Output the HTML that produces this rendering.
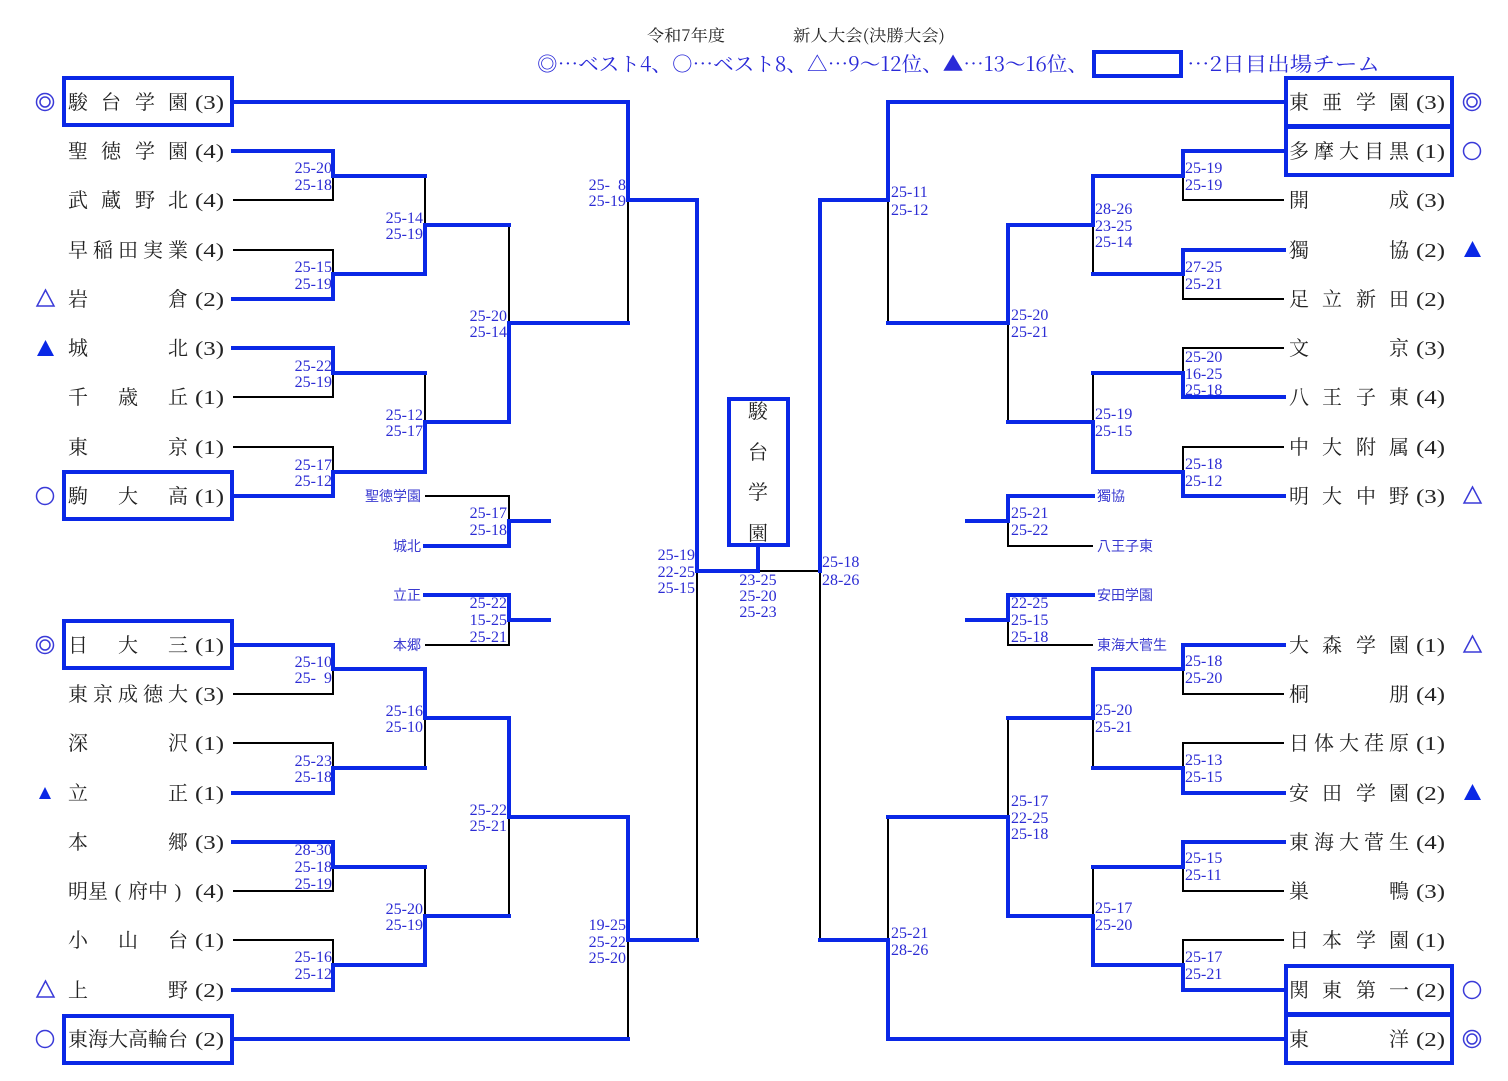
<!DOCTYPE html>
<html>
<head>
<meta charset="utf-8">
<style>
html,body{margin:0;padding:0;background:#fff;}
svg{display:block;}
.nm{font-family:"Liberation Serif","Noto Serif CJK SC",serif;font-size:20px;fill:#222;}
.pr{font-family:"Liberation Serif",serif;font-size:20px;fill:#222;}
.sc{font-family:"Liberation Serif",serif;font-size:16px;fill:#2c2cd4;}
.lb{font-family:"Liberation Sans","Noto Sans CJK JP",sans-serif;font-size:14px;fill:#3a3ad0;}
.bl{stroke:#0a28e6;stroke-width:4;fill:none;stroke-linecap:square;}
.bk{stroke:#000;stroke-width:2;fill:none;}
.hd{font-family:"Noto Serif CJK SC","Liberation Serif",serif;}
</style>
</head>
<body>
<svg width="1508" height="1081" viewBox="0 0 1508 1081" xmlns="http://www.w3.org/2000/svg">
<!-- Header -->
<text class="hd" x="647" y="41" font-size="16" fill="#222" textLength="78" lengthAdjust="spacingAndGlyphs">令和7年度</text>
<text class="hd" x="793" y="41" font-size="16" fill="#222" textLength="152" lengthAdjust="spacingAndGlyphs">新人大会(決勝大会)</text>
<text class="hd" x="537" y="71" font-size="20" fill="#2a2ad8" textLength="551" lengthAdjust="spacingAndGlyphs">◎…ベスト4、○…ベスト8、△…9〜12位、▲…13〜16位、</text>
<rect x="1094" y="52" width="87" height="24" fill="none" stroke="#0a28e6" stroke-width="4"/>
<text class="hd" x="1187" y="71" font-size="20" fill="#2a2ad8" textLength="193" lengthAdjust="spacingAndGlyphs">…2日目出場チーム</text>

<!-- Black lines -->
<g class="bk">
<path d="M233,200 H333 V176"/>
<path d="M233,250 H333 V274"/>
<path d="M425,176 V225"/>
<path d="M233,397 H333 V373"/>
<path d="M233,447 H333 V472"/>
<path d="M425,373 V422"/>
<path d="M509,225 V323"/>
<path d="M628,200 V323"/>
<path d="M233,694 H333 V669"/>
<path d="M233,743 H333 V768"/>
<path d="M425,718 V768"/>
<path d="M233,891 H333 V867"/>
<path d="M233,940 H333 V965"/>
<path d="M425,867 V916"/>
<path d="M509,817 V916"/>
<path d="M628,940 V1039"/>
<path d="M697,571 V940"/>
<path d="M758,571 H820 V940"/>
<path d="M888,200 V323"/>
<path d="M1093,225 V274"/>
<path d="M1183,176 V200 H1284"/>
<path d="M1183,274 V299 H1284"/>
<path d="M1008,323 V422"/>
<path d="M1093,373 V422"/>
<path d="M1183,373 V348 H1284"/>
<path d="M1183,472 V447 H1284"/>
<path d="M888,817 V940"/>
<path d="M1008,718 V817"/>
<path d="M1093,718 V768"/>
<path d="M1183,669 V694 H1284"/>
<path d="M1183,768 V743 H1284"/>
<path d="M1093,867 V916"/>
<path d="M1183,867 V891 H1284"/>
<path d="M1183,965 V940 H1284"/>
<path d="M425,496 H509 V521"/>
<path d="M425,645 H509 V620"/>
<path d="M1093,546 H1008 V521"/>
<path d="M1093,645 H1008 V620"/>
</g>

<!-- Blue lines -->
<g class="bl">
<path d="M233,102 H628 V200 H697 V571 H758 V546"/>
<path d="M233,151 H333 V176 H425"/>
<path d="M233,299 H333 V274 H425 V225 H509"/>
<path d="M233,348 H333 V373 H425"/>
<path d="M233,496 H333 V472 H425 V422 H509 V323 H628"/>
<path d="M233,645 H333 V669 H425 V718 H509 V817 H628 V940 H697"/>
<path d="M233,793 H333 V768 H425"/>
<path d="M233,842 H333 V867 H425"/>
<path d="M233,990 H333 V965 H425 V916 H509"/>
<path d="M233,1039 H628"/>
<path d="M820,571 V200 H888 V102 H1284"/>
<path d="M888,323 H1008 V225 H1093 V176 H1183 V151 H1284"/>
<path d="M1093,274 H1183 V250 H1284"/>
<path d="M1008,422 H1093 V472 H1183 V496 H1284"/>
<path d="M1093,373 H1183 V397 H1284"/>
<path d="M820,940 H888 V1039 H1284"/>
<path d="M888,817 H1008 V916 H1093 V965 H1183 V990 H1284"/>
<path d="M1093,867 H1183 V842 H1284"/>
<path d="M1008,718 H1093 V669 H1183 V645 H1284"/>
<path d="M1093,768 H1183 V793 H1284"/>
<path d="M425,546 H509 V521 H549"/>
<path d="M425,595 H509 V620 H549"/>
<path d="M1093,496 H1008 V521 H967"/>
<path d="M1093,595 H1008 V620 H967"/>
</g>

<!-- Boxes -->
<g fill="none" stroke="#0a28e6" stroke-width="4">
<rect x="64" y="78" width="168" height="47"/>
<rect x="64" y="472" width="168" height="47"/>
<rect x="64" y="621" width="168" height="47"/>
<rect x="64" y="1016" width="168" height="47"/>
<rect x="1286" y="78" width="166" height="48"/>
<rect x="1286" y="127" width="166" height="48"/>
<rect x="1286" y="966" width="166" height="48"/>
<rect x="1286" y="1015" width="166" height="48"/>
<rect x="729" y="399" width="59" height="146"/>
</g>

<g class="nm" text-anchor="middle">
<text x="758" y="418">駿</text>
<text x="758" y="459">台</text>
<text x="758" y="499">学</text>
<text x="758" y="540">園</text>
</g>

<!-- Left names -->
<g class="nm" text-anchor="middle">
<text x="78 111 145 178" y="109">駿台学園</text>
<text x="78 111 145 178" y="158">聖徳学園</text>
<text x="78 111 145 178" y="207">武蔵野北</text>
<text x="78 103 128 153 178" y="257">早稲田実業</text>
<text x="78 178" y="306">岩倉</text>
<text x="78 178" y="355">城北</text>
<text x="78 128 178" y="404">千歳丘</text>
<text x="78 178" y="454">東京</text>
<text x="78 128 178" y="503">駒大高</text>
<text x="78 128 178" y="652">日大三</text>
<text x="78 103 128 153 178" y="701">東京成徳大</text>
<text x="78 178" y="750">深沢</text>
<text x="78 178" y="800">立正</text>
<text x="78 178" y="849">本郷</text>
<text x="78 98 118 138 158 178" y="898">明星(府中)</text>
<text x="78 128 178" y="947">小山台</text>
<text x="78 178" y="997">上野</text>
<text x="78 98 118 138 158 178" y="1046">東海大高輪台</text>
</g>
<g class="pr">
<text x="195" y="109" textLength="29" lengthAdjust="spacingAndGlyphs">(3)</text>
<text x="195" y="158" textLength="29" lengthAdjust="spacingAndGlyphs">(4)</text>
<text x="195" y="207" textLength="29" lengthAdjust="spacingAndGlyphs">(4)</text>
<text x="195" y="257" textLength="29" lengthAdjust="spacingAndGlyphs">(4)</text>
<text x="195" y="306" textLength="29" lengthAdjust="spacingAndGlyphs">(2)</text>
<text x="195" y="355" textLength="29" lengthAdjust="spacingAndGlyphs">(3)</text>
<text x="195" y="404" textLength="29" lengthAdjust="spacingAndGlyphs">(1)</text>
<text x="195" y="454" textLength="29" lengthAdjust="spacingAndGlyphs">(1)</text>
<text x="195" y="503" textLength="29" lengthAdjust="spacingAndGlyphs">(1)</text>
<text x="195" y="652" textLength="29" lengthAdjust="spacingAndGlyphs">(1)</text>
<text x="195" y="701" textLength="29" lengthAdjust="spacingAndGlyphs">(3)</text>
<text x="195" y="750" textLength="29" lengthAdjust="spacingAndGlyphs">(1)</text>
<text x="195" y="800" textLength="29" lengthAdjust="spacingAndGlyphs">(1)</text>
<text x="195" y="849" textLength="29" lengthAdjust="spacingAndGlyphs">(3)</text>
<text x="195" y="898" textLength="29" lengthAdjust="spacingAndGlyphs">(4)</text>
<text x="195" y="947" textLength="29" lengthAdjust="spacingAndGlyphs">(1)</text>
<text x="195" y="997" textLength="29" lengthAdjust="spacingAndGlyphs">(2)</text>
<text x="195" y="1046" textLength="29" lengthAdjust="spacingAndGlyphs">(2)</text>
</g>

<!-- Right names -->
<g class="nm" text-anchor="middle">
<text x="1299 1332 1366 1399" y="109">東亜学園</text>
<text x="1299 1324 1349 1374 1399" y="158">多摩大目黒</text>
<text x="1299 1399" y="207">開成</text>
<text x="1299 1399" y="257">獨協</text>
<text x="1299 1332 1366 1399" y="306">足立新田</text>
<text x="1299 1399" y="355">文京</text>
<text x="1299 1332 1366 1399" y="404">八王子東</text>
<text x="1299 1332 1366 1399" y="454">中大附属</text>
<text x="1299 1332 1366 1399" y="503">明大中野</text>
<text x="1299 1332 1366 1399" y="652">大森学園</text>
<text x="1299 1399" y="701">桐朋</text>
<text x="1299 1324 1349 1374 1399" y="750">日体大荏原</text>
<text x="1299 1332 1366 1399" y="800">安田学園</text>
<text x="1299 1324 1349 1374 1399" y="849">東海大菅生</text>
<text x="1299 1399" y="898">巣鴨</text>
<text x="1299 1332 1366 1399" y="947">日本学園</text>
<text x="1299 1332 1366 1399" y="997">関東第一</text>
<text x="1299 1399" y="1046">東洋</text>
</g>
<g class="pr">
<text x="1416" y="109" textLength="29" lengthAdjust="spacingAndGlyphs">(3)</text>
<text x="1416" y="158" textLength="29" lengthAdjust="spacingAndGlyphs">(1)</text>
<text x="1416" y="207" textLength="29" lengthAdjust="spacingAndGlyphs">(3)</text>
<text x="1416" y="257" textLength="29" lengthAdjust="spacingAndGlyphs">(2)</text>
<text x="1416" y="306" textLength="29" lengthAdjust="spacingAndGlyphs">(2)</text>
<text x="1416" y="355" textLength="29" lengthAdjust="spacingAndGlyphs">(3)</text>
<text x="1416" y="404" textLength="29" lengthAdjust="spacingAndGlyphs">(4)</text>
<text x="1416" y="454" textLength="29" lengthAdjust="spacingAndGlyphs">(4)</text>
<text x="1416" y="503" textLength="29" lengthAdjust="spacingAndGlyphs">(3)</text>
<text x="1416" y="652" textLength="29" lengthAdjust="spacingAndGlyphs">(1)</text>
<text x="1416" y="701" textLength="29" lengthAdjust="spacingAndGlyphs">(4)</text>
<text x="1416" y="750" textLength="29" lengthAdjust="spacingAndGlyphs">(1)</text>
<text x="1416" y="800" textLength="29" lengthAdjust="spacingAndGlyphs">(2)</text>
<text x="1416" y="849" textLength="29" lengthAdjust="spacingAndGlyphs">(4)</text>
<text x="1416" y="898" textLength="29" lengthAdjust="spacingAndGlyphs">(3)</text>
<text x="1416" y="947" textLength="29" lengthAdjust="spacingAndGlyphs">(1)</text>
<text x="1416" y="997" textLength="29" lengthAdjust="spacingAndGlyphs">(2)</text>
<text x="1416" y="1046" textLength="29" lengthAdjust="spacingAndGlyphs">(2)</text>
</g>

<!-- Symbols -->
<g stroke="#3a3ad8" stroke-width="1.5" fill="none">
<circle cx="45" cy="102" r="8.5"/><circle cx="45" cy="102" r="5"/>
<polygon points="37,306 54,306 45.5,290"/>
<circle cx="45" cy="496" r="8.5"/>
<circle cx="45" cy="645" r="8.5"/><circle cx="45" cy="645" r="5"/>
<polygon points="37,997 54,997 45.5,981"/>
<circle cx="45" cy="1039" r="8.5"/>
<circle cx="1472" cy="102" r="8.5"/><circle cx="1472" cy="102" r="5"/>
<circle cx="1472" cy="151" r="8.5"/>
<polygon points="1464,503 1481,503 1472.5,487"/>
<polygon points="1464,652 1481,652 1472.5,636"/>
<circle cx="1472" cy="990" r="8.5"/>
<circle cx="1472" cy="1039" r="8.5"/><circle cx="1472" cy="1039" r="5"/>
</g>
<g fill="#0a28e6">
<polygon points="37,356 54,356 45.5,340"/>
<polygon points="39,799 51,799 45,787"/>
<polygon points="1464,257 1481,257 1472.5,241"/>
<polygon points="1464,800 1481,800 1472.5,784"/>
</g>

<!-- Mini labels -->
<g class="lb" text-anchor="end">
<text x="421" y="501">聖徳学園</text>
<text x="421" y="551">城北</text>
<text x="421" y="600">立正</text>
<text x="421" y="650">本郷</text>
</g>
<g class="lb">
<text x="1097" y="501">獨協</text>
<text x="1097" y="551">八王子東</text>
<text x="1097" y="600">安田学園</text>
<text x="1097" y="650">東海大菅生</text>
</g>

<!-- Scores left -->
<g class="sc" text-anchor="end">
<text x="332" y="173">25-20</text><text x="332" y="190">25-18</text>
<text x="332" y="272">25-15</text><text x="332" y="289">25-19</text>
<text x="332" y="371">25-22</text><text x="332" y="387">25-19</text>
<text x="332" y="470">25-17</text><text x="332" y="486">25-12</text>
<text x="332" y="667">25-10</text><text x="332" y="683">25-&#8199;9</text>
<text x="332" y="766">25-23</text><text x="332" y="782">25-18</text>
<text x="332" y="855">28-30</text><text x="332" y="872">25-18</text><text x="332" y="889">25-19</text>
<text x="332" y="962">25-16</text><text x="332" y="979">25-12</text>
<text x="423" y="223">25-14</text><text x="423" y="239">25-19</text>
<text x="423" y="420">25-12</text><text x="423" y="436">25-17</text>
<text x="423" y="716">25-16</text><text x="423" y="732">25-10</text>
<text x="423" y="914">25-20</text><text x="423" y="930">25-19</text>
<text x="507" y="321">25-20</text><text x="507" y="337">25-14</text>
<text x="507" y="815">25-22</text><text x="507" y="831">25-21</text>
<text x="507" y="518">25-17</text><text x="507" y="535">25-18</text>
<text x="507" y="608">25-22</text><text x="507" y="625">15-25</text><text x="507" y="642">25-21</text>
<text x="626" y="190">25-&#8199;8</text><text x="626" y="206">25-19</text>
<text x="626" y="930">19-25</text><text x="626" y="947">25-22</text><text x="626" y="963">25-20</text>
<text x="695" y="560">25-19</text><text x="695" y="577">22-25</text><text x="695" y="593">25-15</text>
</g>
<g class="sc" text-anchor="middle">
<text x="758" y="585">23-25</text><text x="758" y="601">25-20</text><text x="758" y="617">25-23</text>
</g>
<!-- Scores right -->
<g class="sc">
<text x="822" y="567">25-18</text><text x="822" y="585">28-26</text>
<text x="891" y="197">25-11</text><text x="891" y="215">25-12</text>
<text x="891" y="938">25-21</text><text x="891" y="955">28-26</text>
<text x="1011" y="320">25-20</text><text x="1011" y="337">25-21</text>
<text x="1011" y="806">25-17</text><text x="1011" y="823">22-25</text><text x="1011" y="839">25-18</text>
<text x="1011" y="518">25-21</text><text x="1011" y="535">25-22</text>
<text x="1011" y="608">22-25</text><text x="1011" y="625">25-15</text><text x="1011" y="642">25-18</text>
<text x="1095" y="214">28-26</text><text x="1095" y="231">23-25</text><text x="1095" y="247">25-14</text>
<text x="1095" y="419">25-19</text><text x="1095" y="436">25-15</text>
<text x="1095" y="715">25-20</text><text x="1095" y="732">25-21</text>
<text x="1095" y="913">25-17</text><text x="1095" y="930">25-20</text>
<text x="1185" y="173">25-19</text><text x="1185" y="190">25-19</text>
<text x="1185" y="272">27-25</text><text x="1185" y="289">25-21</text>
<text x="1185" y="362">25-20</text><text x="1185" y="379">16-25</text><text x="1185" y="395">25-18</text>
<text x="1185" y="469">25-18</text><text x="1185" y="486">25-12</text>
<text x="1185" y="666">25-18</text><text x="1185" y="683">25-20</text>
<text x="1185" y="765">25-13</text><text x="1185" y="782">25-15</text>
<text x="1185" y="863">25-15</text><text x="1185" y="880">25-11</text>
<text x="1185" y="962">25-17</text><text x="1185" y="979">25-21</text>
</g>
</svg>
</body>
</html>
